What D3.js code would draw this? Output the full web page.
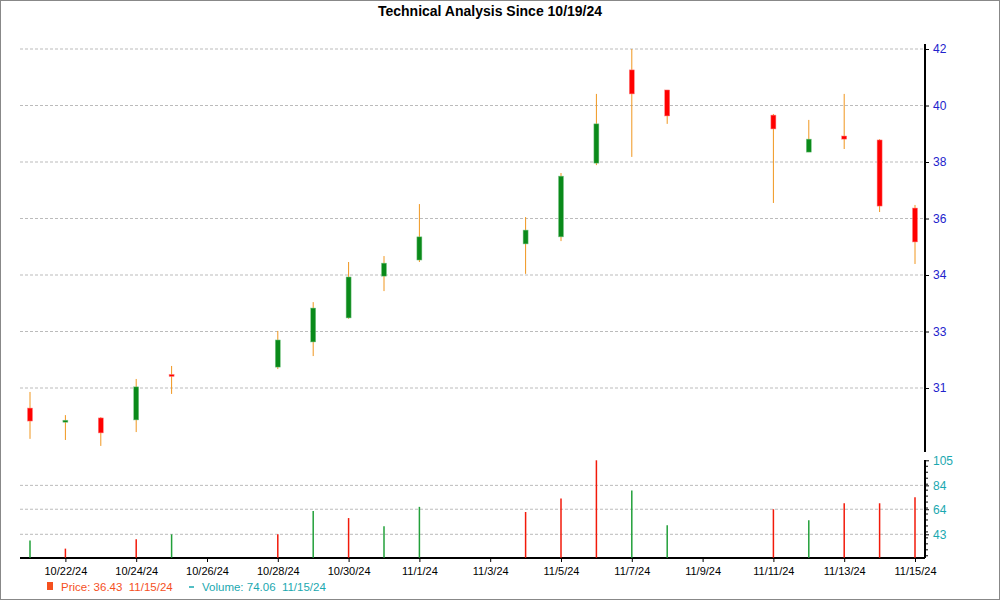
<!DOCTYPE html><html><head><meta charset="utf-8">
<script src="https://cdn.jsdelivr.net/npm/d3@7"></script>
<style>body{margin:0;background:#fff}svg{display:block;font-family:Arial,"Liberation Sans",sans-serif}</style>
</head><body><svg id="c" width="1000" height="600"></svg>
<script>
const dates=["10/21/24","10/22/24","10/23/24","10/24/24","10/25/24","10/28/24","10/29/24","10/30/24","10/31/24","11/1/24","11/4/24","11/5/24","11/6/24","11/7/24","11/8/24","11/11/24","11/12/24","11/13/24","11/14/24","11/15/24"];
const open=[29.29,28.82,28.94,28.87,30.48,30.74,31.63,32.48,33.96,34.53,35.10,35.35,37.96,41.26,40.55,39.66,38.35,38.92,38.78,36.37];
const high=[29.86,29.04,28.97,30.32,30.78,32.02,33.04,34.46,34.67,36.51,36.05,37.61,40.41,42.00,40.55,39.70,39.49,40.41,38.81,36.48];
const low =[28.20,28.16,27.95,28.44,29.79,30.67,31.13,32.45,33.43,34.46,34.04,35.20,37.89,38.18,39.35,36.55,38.35,38.46,36.23,34.39];
const close=[28.83,28.86,28.41,30.04,30.44,31.70,32.83,33.93,34.42,35.35,35.59,37.50,39.35,40.41,39.63,39.17,38.81,38.81,36.44,35.17];
const volume=[37.9,31.0,20.0,38.8,43.0,43.0,62.5,56.6,49.8,66.0,61.7,73.0,105.0,79.6,50.5,64.0,54.7,69.0,69.0,74.06];
const volUp=[1,0,0,0,1,0,1,0,1,1,0,0,0,1,1,0,1,0,0,0];
const priceTickVals=[42,40,38,36,34,32,30];
const priceTickLabels=["42","40","38","36","34","33","31"];
const volTicks=[105,84,64,43];
const xTickDates=["10/22/24","10/24/24","10/26/24","10/28/24","10/30/24","11/1/24","11/3/24","11/5/24","11/7/24","11/9/24","11/11/24","11/13/24","11/15/24"];

const svg=d3.select("#c");
const parse=d3.timeParse("%m/%d/%y");
const L=20,R=925;
const x=d3.scaleTime().domain([parse("10/21/24"),parse("11/15/24")]).range([30,915]);
const y=d3.scaleLinear().domain([30,42]).range([388,49]);
const yv=d3.scaleLinear().domain([23.4,105]).range([557.7,460.3]);

svg.append("rect").attr("x",0.5).attr("y",0.5).attr("width",999).attr("height",599).attr("fill","none").attr("stroke","#888");
svg.append("text").attr("x",490).attr("y",16).attr("text-anchor","middle").attr("font-weight","bold").attr("font-size",14).text("Technical Analysis Since 10/19/24");

svg.append("g").selectAll("line").data(priceTickVals).join("line").attr("x1",L).attr("x2",R).attr("y1",d=>y(d)).attr("y2",d=>y(d)).attr("stroke","#bbb").attr("stroke-dasharray","3,2");
svg.append("g").selectAll("line").data(volTicks.slice(1)).join("line").attr("x1",L).attr("x2",R).attr("y1",d=>yv(d)).attr("y2",d=>yv(d)).attr("stroke","#bbb").attr("stroke-dasharray","3,2");

const pa=svg.append("g").attr("transform",`translate(${R},0)`).call(d3.axisRight(y).tickValues(priceTickVals).tickFormat((d,i)=>priceTickLabels[i]).tickSize(4));
pa.select(".domain").attr("d","M0,44V452").attr("stroke","#000").attr("stroke-width",2);
pa.selectAll("text").attr("fill","#22c").attr("font-size",12).attr("x",8);
const va=svg.append("g").attr("transform",`translate(${R},0)`).call(d3.axisRight(yv).tickValues(volTicks).tickSize(4));
va.select(".domain").attr("d","M0,460V558").attr("stroke","#000").attr("stroke-width",2);
va.selectAll("text").attr("fill","#1aa8b0").attr("font-size",12).attr("x",8);
svg.append("g").selectAll("line").data(d3.range(25,105,5)).join("line").attr("x1",R).attr("x2",R+3).attr("y1",d=>yv(d)).attr("y2",d=>yv(d)).attr("stroke","#000");

const xa=svg.append("g").attr("transform","translate(0,558)").call(d3.axisBottom(x).tickValues(xTickDates.map(parse)).tickFormat(d3.timeFormat("%-m/%-d/%y")).tickSize(4));
xa.select(".domain").attr("d",`M${L},0H${R}`).attr("stroke","#000").attr("stroke-width",2);
xa.selectAll("text").attr("font-size",11).attr("fill","#000").attr("dy","0.9em");

svg.append("g").selectAll("line").data(dates).join("line")
 .attr("x1",d=>x(parse(d))).attr("x2",d=>x(parse(d)))
 .attr("y1",yv(23.4)).attr("y2",(d,i)=>yv(Math.max(volume[i],23.4)))
 .attr("stroke",(d,i)=>volUp[i]?"#22a03a":"#f21a0a").attr("stroke-width",1.5);

const cg=svg.append("g");
dates.forEach((d,i)=>{
 const cx=x(parse(d));
 cg.append("line").attr("x1",cx).attr("x2",cx).attr("y1",y(high[i])).attr("y2",y(low[i])).attr("stroke","#f0961e").attr("stroke-width",1);
 const up=close[i]>=open[i];
 const t=y(Math.max(open[i],close[i])),b=y(Math.min(open[i],close[i]));
 cg.append("rect").attr("x",cx-2.5).attr("width",5).attr("y",t).attr("height",Math.max(b-t,2))
  .attr("fill",up?"#0a8a1a":"#f00").attr("stroke",up?"#7fc78a":"#ff8080").attr("stroke-width",0.5);
});

const lg=svg.append("g").attr("font-size",11.5);
lg.append("rect").attr("x",47).attr("y",582).attr("width",6).attr("height",8).attr("fill","#f5501e");
lg.append("text").attr("x",61).attr("y",591).attr("fill","#f5501e").attr("xml:space","preserve").text("Price: 36.43  11/15/24");
lg.append("line").attr("x1",189).attr("x2",194).attr("y1",587).attr("y2",587).attr("stroke","#1aa8b0").attr("stroke-width",1.5);
lg.append("text").attr("x",202).attr("y",591).attr("fill","#1aa8b0").attr("xml:space","preserve").text("Volume: 74.06  11/15/24");
</script></body></html>
